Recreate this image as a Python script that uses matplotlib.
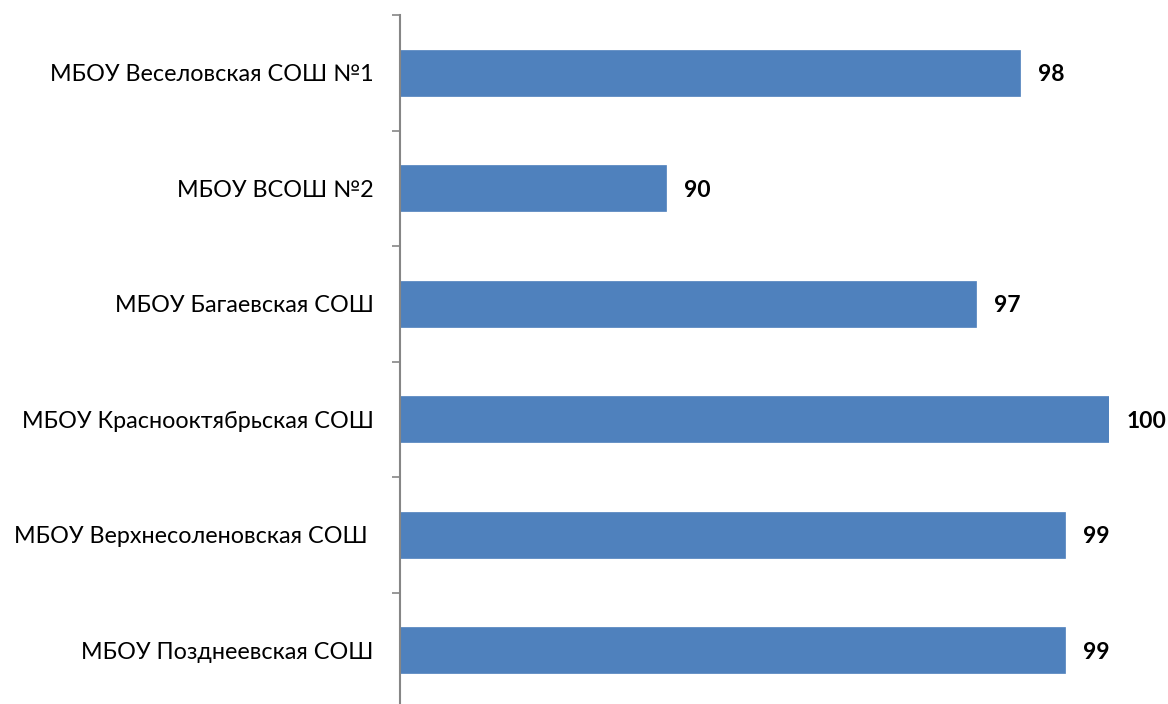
import matplotlib
matplotlib.use("Agg")
import matplotlib.pyplot as plt

categories = ["МБОУ Веселовская СОШ №1", "МБОУ ВСОШ №2", "МБОУ Багаевская СОШ",
              "МБОУ Краснооктябрьская СОШ", "МБОУ Верхнесоленовская СОШ ", "МБОУ Позднеевская СОШ"]
values = [98, 90, 97, 100, 99, 99]

plt.rcParams['font.family'] = ['Lato', 'DejaVu Sans']
W, H = 1168, 704
fig = plt.figure(figsize=(W/100, H/100), dpi=100)
left, right, top, bottom = 400, 1109, 15, 708
ax = fig.add_axes([left/W, 1 - bottom/H, (right-left)/W, (bottom-top)/H])

n = len(categories)
ypos = list(range(n))
ax.barh(ypos, values, height=0.4, left=0, color="#4F81BD", edgecolor="#4F81BD", linewidth=0.5)
ax.set_xlim(84, 100)
ax.set_ylim(n - 0.5, -0.5)
ax.set_yticks(ypos)
ax.set_yticklabels(categories, fontsize=16.8)
ax.set_yticks([i - 0.5 for i in range(n + 1)], minor=True)
ax.tick_params(axis='y', which='major', length=0, pad=19)
ax.tick_params(axis='y', which='minor', length=6, width=1.2, color="#868686")
ax.set_xticks([])
for s in ['top', 'right', 'bottom']:
    ax.spines[s].set_visible(False)
ax.spines['left'].set_color("#868686")
ax.spines['left'].set_linewidth(1.5)
for y, v in zip(ypos, values):
    ax.annotate(str(v), xy=(v, y), xytext=(13, -1.5), textcoords='offset points',
                va='center', ha='left', fontsize=16.5, fontweight='bold', annotation_clip=False)
fig.savefig("out.png", dpi=100)
